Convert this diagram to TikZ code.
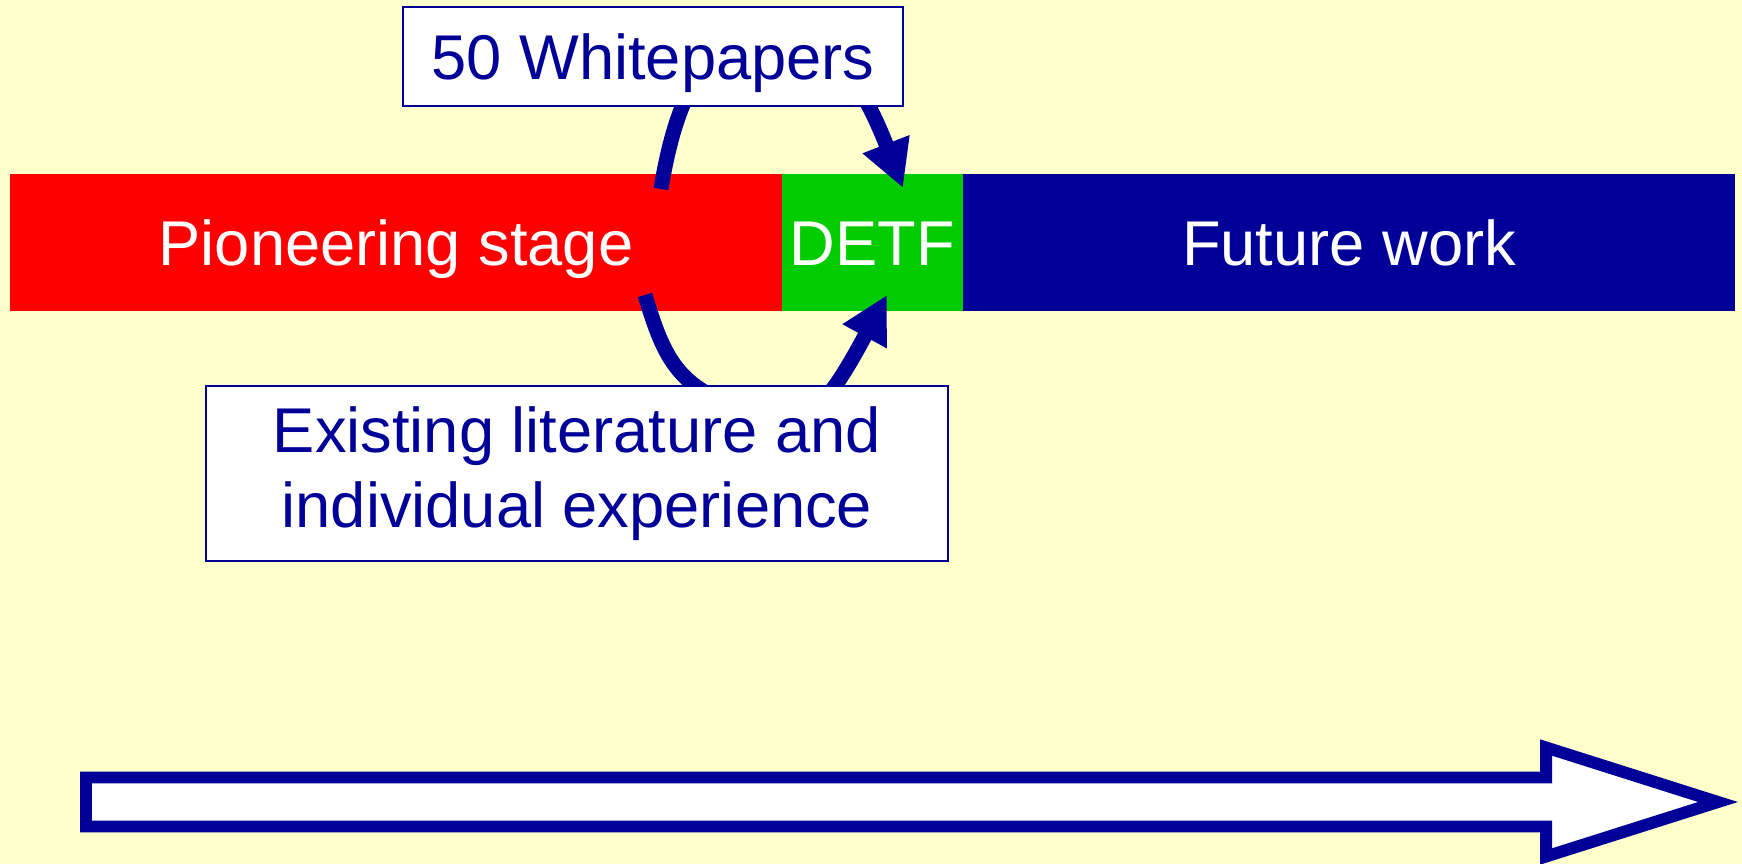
\documentclass[tikz,border=0pt]{standalone}
\usepackage{fontspec}
\setmainfont{Liberation Sans}
\usetikzlibrary{arrows.meta}
\definecolor{bgyellow}{HTML}{FFFFCC}
\definecolor{stagered}{HTML}{FF0000}
\definecolor{detfgreen}{HTML}{00CC00}
\definecolor{darkblue}{HTML}{000099}

\begin{document}
\begin{tikzpicture}[x=0.02cm,y=-0.02cm,>={Triangle[length=0.94cm,width=0.94cm]},
    bar/.style={inner sep=0pt,minimum height=2.74cm,text=white,
      text height=0.94cm,text depth=0pt,font=\fontsize{36}{43}\selectfont},
    note/.style={draw=darkblue,line width=1.2pt,fill=white,text=darkblue,
      inner sep=0pt,align=center,font=\fontsize{36}{43}\selectfont},
    flow/.style={draw=darkblue,line width=0.3cm}]
  % background
  \fill[bgyellow] (0,0) rectangle (1742,864);
  \useasboundingbox (0,0) rectangle (1742,864);

  % time line
  \node[bar,fill=stagered,minimum width=15.44cm] (pioneer) at (396,242.5) {Pioneering stage};
  \node[bar,fill=detfgreen,minimum width=3.62cm] (detf) at (872.5,242.5) {DETF};
  \node[bar,fill=darkblue,minimum width=15.44cm] (future) at (1349,242.5) {Future work};

  % inputs into DETF
  \coordinate (wpstart) at (661,189);
  \coordinate (wptop) at (780,30);
  \coordinate (wpend) at (903,188);
  \coordinate (litstart) at (645,295);
  \coordinate (litend) at (887,295);
  \draw[flow,->] (wpstart) .. controls (677,90) and (710,30) .. (wptop)
                 .. controls (830,30) and (865,90) .. (wpend);
  \draw[flow,->] (litstart) .. controls (660,345) and (672,375) .. (710,395)
                 .. controls (745,413) and (805,428) .. (835,386)
                 .. controls (850,365) and (868,330) .. (litend);

  % boxes (on top of the loops)
  \node[note,minimum width=10cm,minimum height=1.98cm,
        text height=0.94cm,text depth=0pt] (wp) at (653,56.5) {50 Whitepapers};
  \node[note,minimum width=14.83cm,minimum height=3.5cm] (lit) at (577,473.5)
       {Existing literature and\\individual experience};

  % time arrow
  \draw[darkblue,line width=0.24cm,fill=white]
     (86,777.5) -- (1546,777.5) -- (1546,747.5) -- (1718,802)
     -- (1546,856.5) -- (1546,826.5) -- (86,826.5) -- cycle;
\end{tikzpicture}
\end{document}
